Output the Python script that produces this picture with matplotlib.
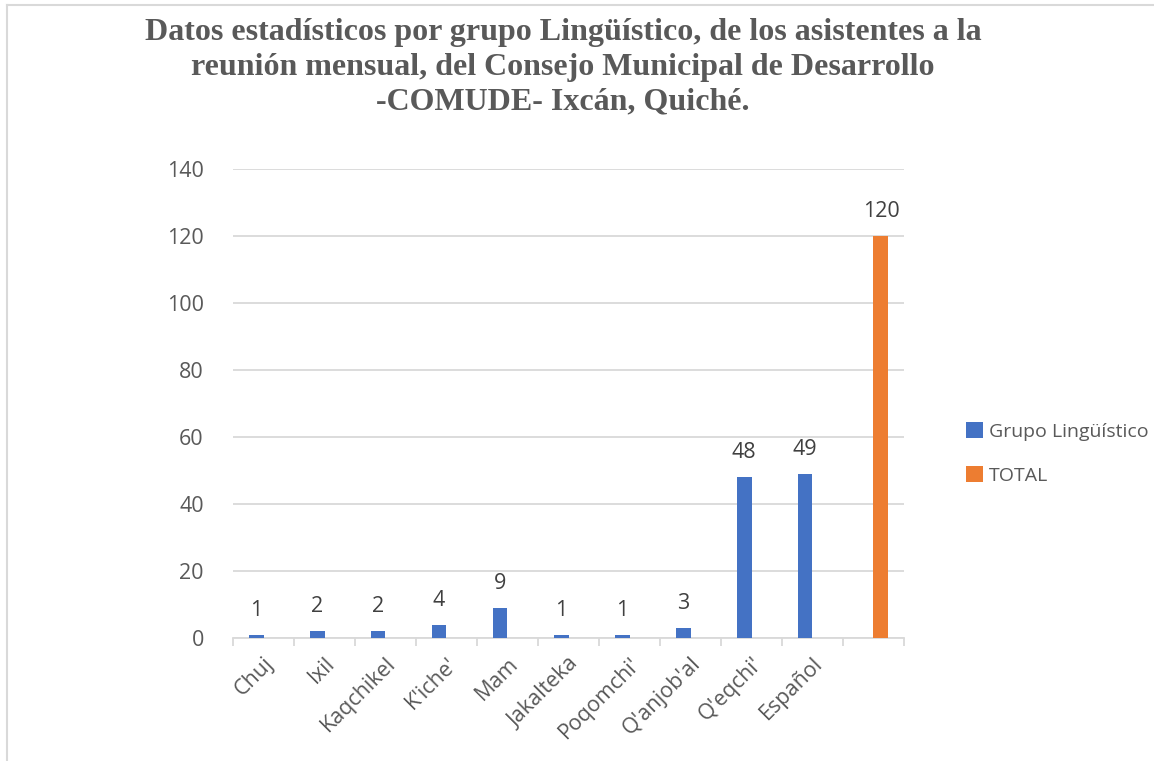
import numpy as np
import matplotlib
matplotlib.use("Agg")
import matplotlib.pyplot as plt
from matplotlib.lines import Line2D

categories = ["Chuj", "Ixil", "Kaqchikel", "K'iche'", "Mam", "Jakalteka",
              "Poqomchi'", "Q'anjob'al", "Q'eqchi'", "Español", ""]
grupo = [1, 2, 2, 4, 9, 1, 1, 3, 48, 49, np.nan]
total = [np.nan] * 10 + [120]
series_names = ["Grupo Lingüístico", "TOTAL"]
title = ("Datos estadísticos por grupo Lingüístico, de los asistentes a la\n"
         "reunión mensual, del Consejo Municipal de Desarrollo\n"
         "-COMUDE- Ixcán, Quiché.")

blue = "#4472C4"
orange = "#ED7D31"
grid = "#D9D9D9"
txt = "#595959"
font = "Open Sans"
fs = 15.5

fig = plt.figure(figsize=(11.54, 7.61), dpi=100)
fig.patch.set_facecolor("white")
# outer chart border (top and left visible)
fig.add_artist(Line2D([7/1154, 7/1154], [0, 1 - 5/761], transform=fig.transFigure, color=grid, lw=1.5))
fig.add_artist(Line2D([7/1154, 1], [1 - 5/761, 1 - 5/761], transform=fig.transFigure, color=grid, lw=1.5))

ax = fig.add_axes([233/1154, 1 - 638/761, (904 - 233)/1154, (638 - 169)/761])
x = np.arange(len(categories))
w = 0.245
b1 = ax.bar(x - w/2, grupo, w, color=blue, label=series_names[0], zorder=3)
b2 = ax.bar(x + w/2, total, w, color=orange, label=series_names[1], zorder=3)

for xs, vals in ((x - w/2, grupo), (x + w/2, total)):
    for xi, v in zip(xs, vals):
        if not np.isnan(v):
            ax.text(xi, v + 4.2, f"{int(v)}", ha="center", va="bottom", fontsize=fs,
                    color="#404040", family=font)

ax.set_xlim(-0.5, len(categories) - 0.5)
ax.set_ylim(0, 140)
ax.set_yticks(np.arange(0, 141, 20))
ax.yaxis.grid(True, color=grid, lw=1.3, zorder=0)
ax.set_axisbelow(True)
for s in ["top", "right", "left"]:
    ax.spines[s].set_visible(False)
ax.spines["bottom"].set_color(grid)
ax.spines["bottom"].set_linewidth(1.3)
ax.tick_params(axis="y", length=0, pad=21, labelsize=fs, labelcolor=txt)
for lab in ax.get_yticklabels():
    lab.set_family(font)

# category boundary ticks
ax.set_xticks(np.arange(-0.5, len(categories), 1.0))
ax.set_xticklabels([])
ax.tick_params(axis="x", which="major", length=6, color=grid, width=1.3, direction="out")
ax.set_xticks(x, minor=True)
ax.set_xticklabels(categories, minor=True, rotation=45, ha="right", va="top",
                   rotation_mode="anchor", fontsize=fs, color=txt, family=font)
ax.tick_params(axis="x", which="minor", length=0, pad=11)

fig.text(563/1154, 1 - 18/761, title, ha="center", va="top", fontsize=23,
         fontweight="bold", family="Liberation Serif", color=txt, linespacing=1.27)

leg = fig.legend(handles=[b1, b2], loc="upper left", bbox_to_anchor=(949/1154, 1 - 405/761),
                 frameon=False, handlelength=0.85, handleheight=0.85,
                 handletextpad=0.3, labelspacing=1.3, prop={"family": font, "size": 14})
for t in leg.get_texts():
    t.set_color(txt)

fig.savefig("out.png", dpi=100, facecolor="white")
